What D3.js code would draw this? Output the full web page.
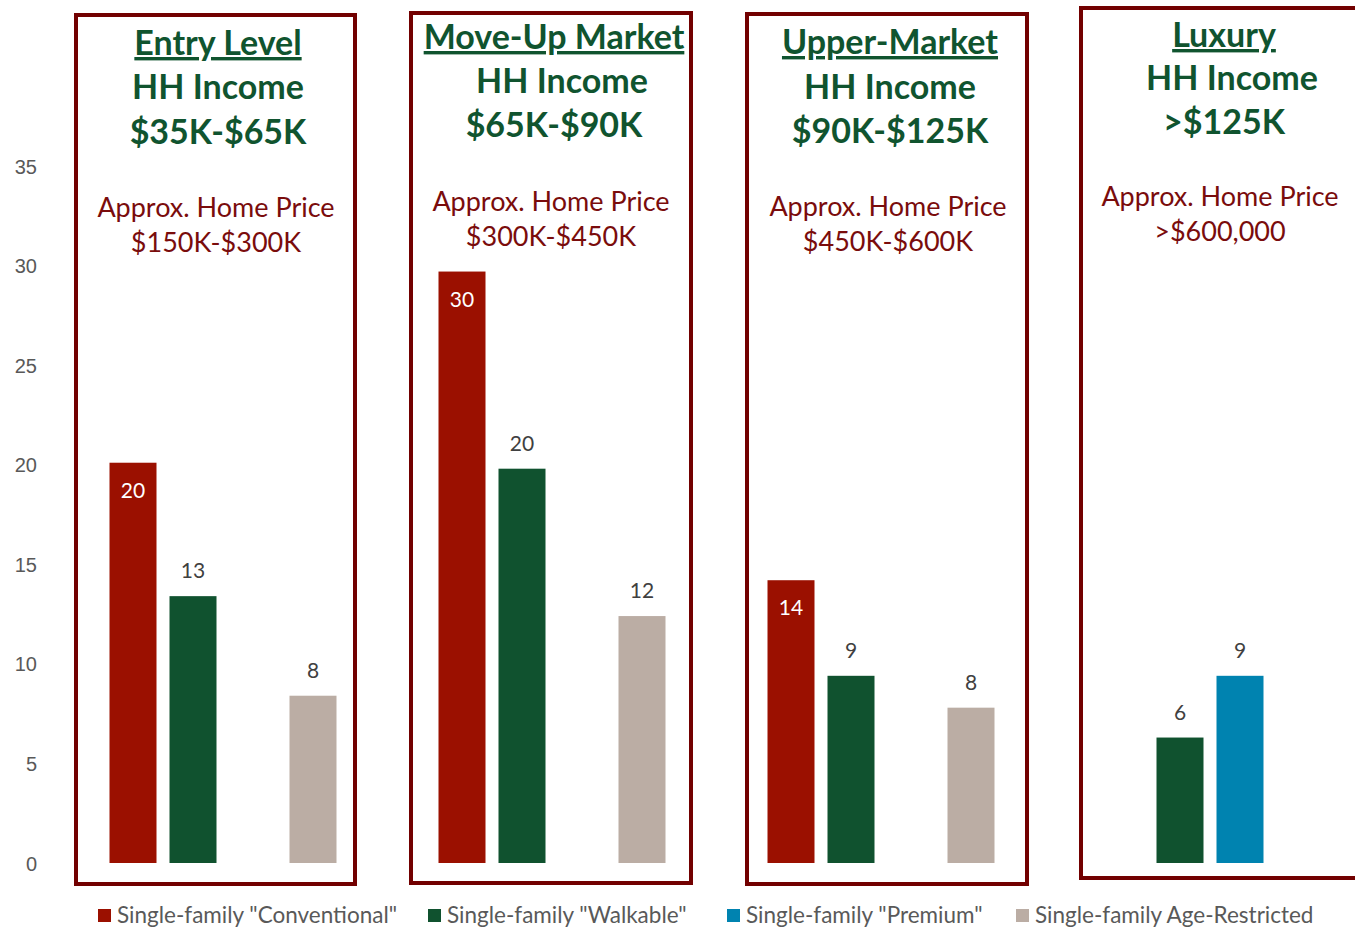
<!DOCTYPE html>
<html>
<head>
<meta charset="utf-8">
<script src="https://cdn.jsdelivr.net/npm/d3@7/dist/d3.min.js"></script>
<style>
  body { margin: 0; background: #fff; }
  svg { display: block; font-family: Lato, "Noto Sans", sans-serif; }
  .axis text { fill: #595959; font-size: 20px; }
</style>
</head>
<body>
<svg width="1355" height="927"></svg>
<script>
// market segments (x categories)
var segments = ["Entry Level", "Move-Up Market", "Upper-Market", "Luxury"];
var incomeRanges = ["$35K-$65K", "$65K-$90K", "$90K-$125K", ">$125K"];
var priceRanges = ["$150K-$300K", "$300K-$450K", "$450K-$600K", ">$600,000"];

// series
var seriesNames = ['Single-family "Conventional"', 'Single-family "Walkable"', 'Single-family "Premium"', "Single-family Age-Restricted"];
var conventional = [20.1, 29.7, 14.2, null];
var walkable = [13.4, 19.8, 9.4, 6.3];
var premium = [null, null, null, 9.4];
var ageRestricted = [8.4, 12.4, 7.8, null];
var yTicks = [0, 5, 10, 15, 20, 25, 30, 35];

var colors = ["#9b1000", "#10522f", "#0083b0", "#bbada4"];
var green = "#10542f", darkRed = "#7a0c0c";

var svg = d3.select("svg");

var x0 = d3.scaleBand().domain(segments).range([58.5, 1374.5]).padding(0);
var x1 = d3.scaleBand().domain(seriesNames).range([0, 227]).paddingInner(13 / 60).paddingOuter(0);
var innerOffset = (x0.bandwidth() - 227) / 2;
var y = d3.scaleLinear().domain([0, 35]).range([863, 166]);

// y axis, labels only
var gY = svg.append("g").attr("class", "axis").attr("transform", "translate(37,0)")
  .call(d3.axisLeft(y).tickValues(yTicks).tickSize(0).tickPadding(0));
gY.select(".domain").remove();
gY.selectAll("text").attr("dy", "0.35em");

// segment boxes (hand-placed frames)
var boxes = [
  {x: 76, y: 15, w: 279, h: 869},
  {x: 411, y: 13, w: 280, h: 870},
  {x: 747, y: 14, w: 280, h: 870},
  {x: 1081, y: 8, w: 290, h: 870}
];
svg.selectAll(".box").data(boxes).enter().append("rect")
  .attr("class", "box")
  .attr("x", d => d.x).attr("y", d => d.y)
  .attr("width", d => d.w).attr("height", d => d.h)
  .attr("fill", "none").attr("stroke", "#720000").attr("stroke-width", 4);

// bars
var rows = segments.map(function (s, i) {
  return [conventional[i], walkable[i], premium[i], ageRestricted[i]].map(function (v, j) {
    return {seg: s, series: seriesNames[j], j: j, value: v};
  }).filter(d => d.value != null);
});
var flat = [].concat.apply([], rows);

svg.selectAll(".bar").data(flat).enter().append("rect")
  .attr("class", "bar")
  .attr("x", d => x0(d.seg) + innerOffset + x1(d.series))
  .attr("y", d => y(d.value))
  .attr("width", x1.bandwidth())
  .attr("height", d => y(0) - y(d.value))
  .attr("fill", d => colors[d.j]);

svg.selectAll(".val").data(flat).enter().append("text")
  .attr("class", "val")
  .attr("x", d => x0(d.seg) + innerOffset + x1(d.series) + x1.bandwidth() / 2)
  .attr("y", d => d.j === 0 ? y(d.value) + 35 : y(d.value) - 18)
  .attr("text-anchor", "middle")
  .attr("font-size", "21px")
  .attr("fill", d => d.j === 0 ? "#fff" : "#404040")
  .text(d => d3.format(".0f")(d.value));

// segment headings
var headPos = [
  {cx: 218, t: 55, h: 99, i: 144, px: 216, p1: 217, p2: 252},
  {cx: 554, t: 49, h: 93, hx: 562, i: 137, px: 551, p1: 211, p2: 246},
  {cx: 890, t: 54, h: 99, i: 143, px: 888, p1: 216, p2: 251},
  {cx: 1224, t: 47, h: 90, hx: 1232, i: 134, px: 1220, p1: 206, p2: 241}
];
var heads = svg.selectAll(".head").data(segments).enter().append("g").attr("class", "head");
heads.append("text")
  .attr("x", (d, i) => headPos[i].cx).attr("y", (d, i) => headPos[i].t)
  .attr("text-anchor", "middle").attr("font-size", "34px").attr("font-weight", "bold")
  .attr("fill", green).attr("text-decoration", "underline")
  .text(d => d);
heads.append("text")
  .attr("x", (d, i) => headPos[i].hx || headPos[i].cx).attr("y", (d, i) => headPos[i].h)
  .attr("text-anchor", "middle").attr("font-size", "34px").attr("font-weight", "bold")
  .attr("fill", green).text("HH Income");
heads.append("text")
  .attr("x", (d, i) => headPos[i].cx).attr("y", (d, i) => headPos[i].i)
  .attr("text-anchor", "middle").attr("font-size", "34px").attr("font-weight", "bold")
  .attr("fill", green).text((d, i) => incomeRanges[i]);
heads.append("text")
  .attr("x", (d, i) => headPos[i].px).attr("y", (d, i) => headPos[i].p1)
  .attr("text-anchor", "middle").attr("font-size", "27px")
  .attr("fill", darkRed).text("Approx. Home Price");
heads.append("text")
  .attr("x", (d, i) => headPos[i].px).attr("y", (d, i) => headPos[i].p2)
  .attr("text-anchor", "middle").attr("font-size", "27px")
  .attr("fill", darkRed).text((d, i) => priceRanges[i]);

// legend
var legendX = [98, 428, 727, 1016];
var lg = svg.selectAll(".lg").data(seriesNames).enter().append("g")
  .attr("class", "lg")
  .attr("transform", (d, i) => "translate(" + legendX[i] + ",909)");
lg.append("rect").attr("width", 13).attr("height", 13).attr("fill", (d, i) => colors[i]);
lg.append("text").attr("x", 19).attr("y", 14).attr("font-size", "22.5px").attr("fill", "#595959").text(d => d);
</script>
</body>
</html>
